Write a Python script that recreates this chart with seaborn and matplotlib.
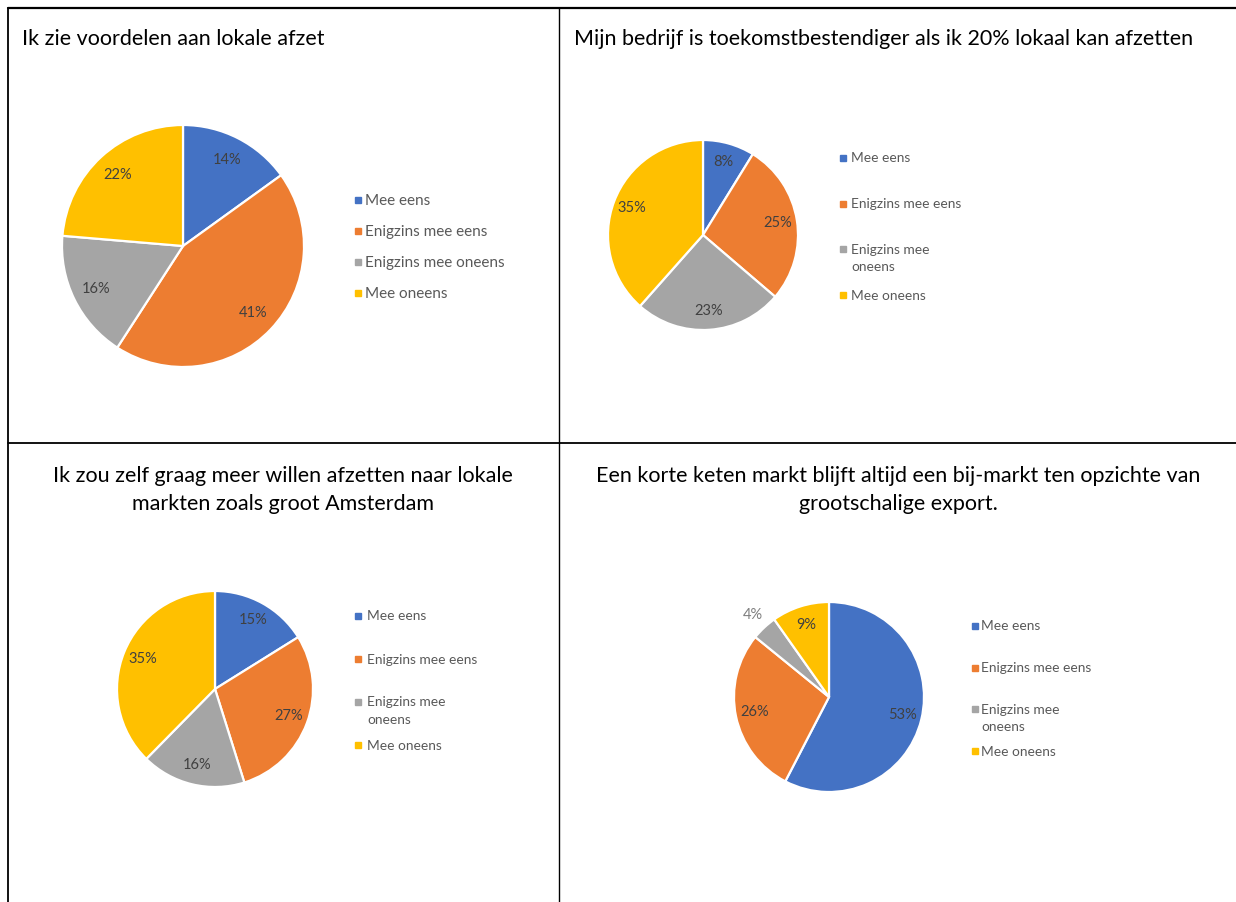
import numpy as np
import matplotlib
matplotlib.use("Agg")
import matplotlib.pyplot as plt
import seaborn as sns

# survey answers (percent as printed in the original charts)
categories = ["Mee eens", "Enigzins mee eens", "Enigzins mee oneens", "Mee oneens"]
categories_wrapped = ["Mee eens", "Enigzins mee eens", "Enigzins mee\noneens", "Mee oneens"]
voordelen = [14, 41, 16, 22]
toekomst = [8, 25, 23, 35]
lokale_markten = [15, 27, 16, 35]
korte_keten = [53, 26, 4, 9]

titles = [
    "Ik zie voordelen aan lokale afzet",
    "Mijn bedrijf is toekomstbestendiger als ik 20% lokaal kan afzetten",
    "Ik zou zelf graag meer willen afzetten naar lokale\nmarkten zoals groot Amsterdam",
    "Een korte keten markt blijft altijd een bij-markt ten opzichte van\ngrootschalige export.",
]

colors = sns.color_palette(["#4472C4", "#ED7D31", "#A5A5A5", "#FFC000"])

sns.set_theme(style="white")
plt.rcParams["font.family"] = ["Lato", "DejaVu Sans"]

W, H = 1236, 902
fig = plt.figure(figsize=(W / 100, H / 100), dpi=100)
fig.patch.set_facecolor("white")

# table grid behind the charts
bg = fig.add_axes([0, 0, 1, 1])
bg.set_xlim(0, W)
bg.set_ylim(H, 0)
bg.axis("off")
bg.plot([8, W], [8, 8], color="black", lw=1.6)
bg.plot([8, 8], [8, H], color="black", lw=1.3)
bg.plot([559, 559], [8, H], color="black", lw=1.0)
bg.plot([8, W], [443, 443], color="black", lw=1.3)


def draw_chart(values, title, title_xy, title_ha, center, radius,
               leg_marker_x, leg_text_x, leg_y0, leg_step, leg_fs, leg_labels,
               outside=()):
    ax = fig.add_axes([0, 0, 1, 1])
    ax.patch.set_alpha(0)
    ax.axis("off")
    cx, cy = center[0], H - center[1]
    wedges, texts = ax.pie(
        values, colors=colors, startangle=90, counterclock=False,
        center=(cx, cy), radius=radius, normalize=True,
        labels=[f"{v}%" for v in values], labeldistance=0.8,
        wedgeprops=dict(edgecolor="white", linewidth=1.6),
        textprops=dict(fontsize=10.5, color="#404040"),
    )
    for i, (w, t) in enumerate(zip(wedges, texts)):
        t.set_ha("center")
        t.set_va("center")
        if i in outside:
            mid = np.deg2rad((w.theta1 + w.theta2) / 2)
            t.set_position((cx + 1.18 * radius * np.cos(mid),
                            cy + 1.18 * radius * np.sin(mid)))
            t.set_color("#7f7f7f")
    ax.text(title_xy[0], H - title_xy[1], title, ha=title_ha, va="top",
            fontsize=15.5, color="black", linespacing=1.5)

    # legend entries, first lines evenly spaced like the Office legend
    fs_px = leg_fs / 0.72
    for i, (lab, c) in enumerate(zip(leg_labels, colors)):
        y = leg_y0 + i * leg_step
        ax.plot([leg_marker_x], [H - y], marker="s", ms=4.5, ls="", color=c)
        ax.text(leg_text_x, H - (y - 0.4 * fs_px), lab, ha="left", va="top",
                fontsize=leg_fs, color="#595959", linespacing=1.5)
    ax.set_xlim(0, W)
    ax.set_ylim(0, H)


draw_chart(voordelen, titles[0], (22, 29), "left", (183, 246), 121,
           358, 365, 200, 31, 11, categories)
draw_chart(toekomst, titles[1], (574, 29), "left", (703, 235), 95,
           843, 851, 158, 45.7, 9.9, categories_wrapped)
draw_chart(lokale_markten, titles[2], (283, 466), "center", (215, 689), 98,
           358, 367, 616, 43, 9.9, categories_wrapped)
draw_chart(korte_keten, titles[3], (898, 466), "center", (829, 697), 95,
           975, 981, 626, 41.7, 9.9, categories_wrapped, outside=(2,))

fig.savefig("out.png", dpi=100)
